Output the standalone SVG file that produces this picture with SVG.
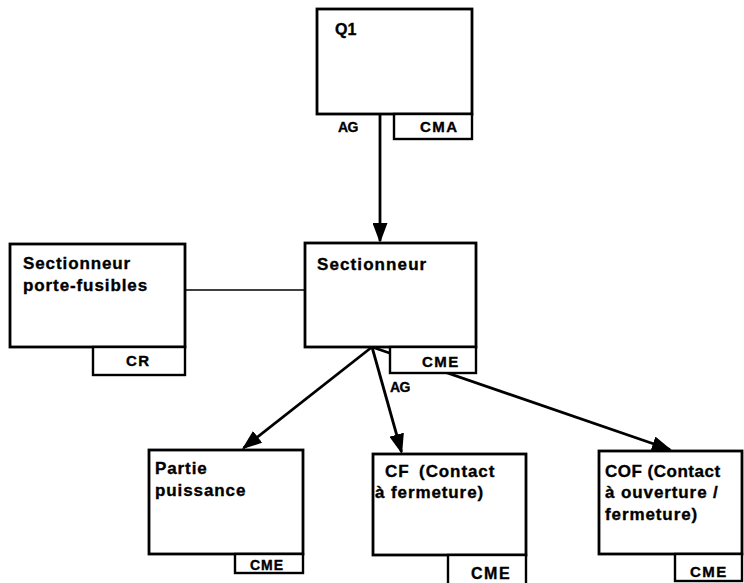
<svg xmlns="http://www.w3.org/2000/svg" width="744" height="583" viewBox="0 0 744 583">
  <defs>
    <style>
      .box { fill: #fff; stroke: #000; stroke-width: 2.8; }
      .tab { fill: #fff; stroke: #000; stroke-width: 2.4; }
      .link { fill: none; stroke: #000; stroke-width: 2.8; }
      .plain { fill: none; stroke: #000; stroke-width: 1.6; }
      text { font-family: "Liberation Sans", Arial, sans-serif; font-weight: bold; fill: #000; stroke: #000; stroke-width: 0.35; }
      .title { font-size: 17px; letter-spacing: 0.9px; }
      .tag { font-size: 15px; letter-spacing: 1.5px; }
      .small { font-size: 14px; letter-spacing: -0.5px; }
    </style>
    <marker id="arrow" viewBox="0 0 20 15" refX="18" refY="7.5" markerWidth="20" markerHeight="15" markerUnits="userSpaceOnUse" orient="auto">
      <path d="M0,0 L20,7.5 L0,15 z" fill="#000"/>
    </marker>
  </defs>

  <!-- connectors -->
  <g id="connectors">
    <line class="link" x1="380" y1="114" x2="380" y2="241" marker-end="url(#arrow)"/>
    <line class="plain" x1="185" y1="290" x2="305" y2="290"/>
    <line class="link" x1="372" y1="347" x2="243.5" y2="448" marker-end="url(#arrow)"/>
    <line class="link" x1="372" y1="347" x2="401.5" y2="452" marker-end="url(#arrow)"/>
    <line class="link" x1="372" y1="347" x2="670" y2="449.5" marker-end="url(#arrow)"/>
    <text class="small" x="338" y="132">AG</text>
    <text class="small" x="390" y="392">AG</text>
  </g>

  <!-- Q1 -->
  <g id="q1">
    <rect class="box" x="317" y="9" width="155" height="105"/>
    <rect class="tab" x="394" y="114" width="78" height="25"/>
    <text x="335" y="35" style="font-size:16px">Q1</text>
    <text class="tag" x="420" y="132">CMA</text>
  </g>

  <!-- Sectionneur porte-fusibles -->
  <g id="sectionneur-pf">
    <rect class="box" x="10" y="244" width="175" height="103"/>
    <rect class="tab" x="93" y="347" width="92" height="28"/>
    <text class="title" x="23" y="269">Sectionneur</text>
    <text class="title" x="23" y="291">porte-fusibles</text>
    <text class="tag" x="126" y="366">CR</text>
  </g>

  <!-- Sectionneur -->
  <g id="sectionneur">
    <rect class="box" x="305" y="243" width="171" height="104"/>
    <rect class="tab" x="390" y="347" width="86" height="26"/>
    <text class="title" x="317" y="270" style="letter-spacing:1.1px">Sectionneur</text>
    <text class="tag" x="422" y="367">CME</text>
  </g>

  <!-- Partie puissance -->
  <g id="partie-puissance">
    <rect class="box" x="149" y="450" width="154" height="104"/>
    <rect class="tab" x="235" y="554" width="68" height="19"/>
    <text class="title" x="155" y="474">Partie</text>
    <text class="title" x="155" y="496">puissance</text>
    <text class="tag" x="250" y="570" style="font-size:14px;letter-spacing:1px">CME</text>
  </g>

  <!-- CF (Contact à fermeture) -->
  <g id="cf">
    <rect class="box" x="373" y="454" width="153" height="101"/>
    <rect class="tab" x="448" y="555" width="78" height="32"/>
    <text class="title" x="385" y="477" style="word-spacing:4px">CF (Contact</text>
    <text class="title" x="375" y="498">à fermeture)</text>
    <text class="tag" x="471" y="579" style="font-size:16px">CME</text>
  </g>

  <!-- COF (Contact à ouverture / fermeture) -->
  <g id="cof">
    <rect class="box" x="599" y="451" width="143" height="103"/>
    <rect class="tab" x="675" y="554" width="67" height="27"/>
    <text class="title" x="605" y="477" style="letter-spacing:0.5px">COF (Contact</text>
    <text class="title" x="605" y="498">à ouverture /</text>
    <text class="title" x="605" y="520">fermeture)</text>
    <text class="tag" x="690" y="577">CME</text>
  </g>
</svg>
